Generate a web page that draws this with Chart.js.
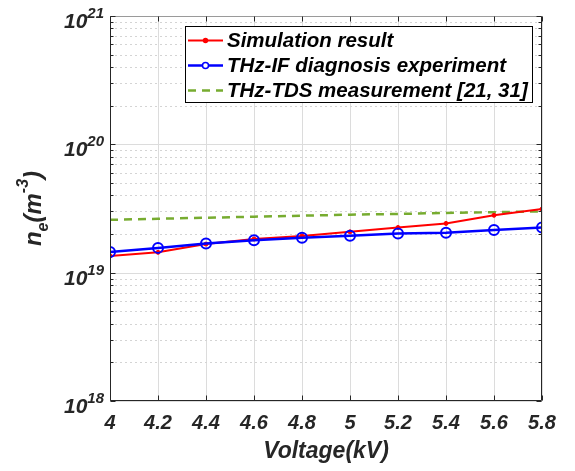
<!DOCTYPE html>
<html>
<head>
<meta charset="utf-8">
<script src="https://cdn.jsdelivr.net/npm/chart.js@4"></script>
<style>
  html, body { margin: 0; padding: 0; background: #fff; }
</style>
</head>
<body>
<canvas id="myChart" width="575" height="471"></canvas>
<script>
// data
var voltage = [4, 4.2, 4.4, 4.6, 4.8, 5.0, 5.2, 5.4, 5.6, 5.8];
var simulation = [1.35e19, 1.44e19, 1.67e19, 1.83e19, 1.93e19, 2.08e19, 2.25e19, 2.42e19, 2.80e19, 3.13e19];
var thzIF = [1.45e19, 1.56e19, 1.69e19, 1.79e19, 1.87e19, 1.94e19, 2.02e19, 2.05e19, 2.15e19, 2.25e19];
var thzTDS = [2.58e19, 2.63e19, 2.68e19, 2.73e19, 2.78e19, 2.83e19, 2.87e19, 2.92e19, 2.96e19, 3.00e19];

var seriesNames = ['Simulation result', 'THz-IF diagnosis experiment', 'THz-TDS measurement [21, 31]'];
var xTicks = [4, 4.2, 4.4, 4.6, 4.8, 5, 5.2, 5.4, 5.6, 5.8];
var yTicks = [1e18, 1e19, 1e20, 1e21];
var yExponents = ['18', '19', '20', '21'];

var textColor = '#262626';
var fontFamily = '"Liberation Sans", Arial, sans-serif';

function toPoints(vals) {
  return vals.map(function(v, i) { return {x: voltage[i], y: v}; });
}

// minor log ticks 2..9 in each decade
var yMinor = [];
for (var d = 0; d < yTicks.length - 1; d++) {
  for (var k = 2; k <= 9; k++) {
    yMinor.push(k * yTicks[d]);
  }
}

function line(ctx, x1, y1, x2, y2) {
  ctx.beginPath();
  ctx.moveTo(x1, y1);
  ctx.lineTo(x2, y2);
  ctx.stroke();
}

// grid behind the data
var gridLines = {
  id: 'gridLines',
  beforeDatasetsDraw: function(chart) {
    var ctx = chart.ctx, a = chart.chartArea;
    var xs = chart.scales.x, ys = chart.scales.y;
    ctx.save();
    ctx.lineWidth = 1;
    ctx.strokeStyle = '#dcdcdc';
    xTicks.forEach(function(v) {
      var px = Math.round(xs.getPixelForValue(v)) + 0.5;
      line(ctx, px, a.top, px, a.bottom);
    });
    yTicks.forEach(function(v) {
      var py = Math.round(ys.getPixelForValue(v)) + 0.5;
      line(ctx, a.left, py, a.right, py);
    });
    ctx.setLineDash([2, 3]);
    ctx.strokeStyle = '#d4d4d4';
    yMinor.forEach(function(v) {
      var py = Math.round(ys.getPixelForValue(v)) + 0.5;
      line(ctx, a.left, py, a.right, py);
    });
    ctx.restore();
  }
};

// box, inward ticks, y labels, titles, legend
var decorations = {
  id: 'decorations',
  afterDraw: function(chart) {
    var ctx = chart.ctx, a = chart.chartArea;
    var xs = chart.scales.x, ys = chart.scales.y;
    var L = Math.round(a.left) + 0.5, R = Math.round(a.right) - 0.5;
    var T = Math.round(a.top) + 0.5, B = Math.round(a.bottom) - 0.5;
    ctx.save();

    // box
    ctx.lineWidth = 1;
    ctx.strokeStyle = '#9a9a9a';
    line(ctx, L, T, R, T);
    ctx.strokeStyle = textColor;
    line(ctx, L, T, L, B);
    line(ctx, L, B, R, B);
    line(ctx, R, T, R, B);

    // ticks
    xTicks.forEach(function(v) {
      var px = Math.round(xs.getPixelForValue(v)) + 0.5;
      line(ctx, px, B, px, B - 5);
      line(ctx, px, T, px, T + 5);
    });
    yTicks.forEach(function(v) {
      var py = Math.round(ys.getPixelForValue(v)) + 0.5;
      line(ctx, L, py, L + 5, py);
      line(ctx, R, py, R - 5, py);
    });
    yMinor.forEach(function(v) {
      var py = Math.round(ys.getPixelForValue(v)) + 0.5;
      line(ctx, L, py, L + 3, py);
      line(ctx, R, py, R - 3, py);
    });

    // y tick labels as 10^n
    ctx.fillStyle = textColor;
    ctx.textBaseline = 'alphabetic';
    yTicks.forEach(function(v, i) {
      var py = ys.getPixelForValue(v);
      ctx.font = 'italic bold 15px ' + fontFamily;
      var ew = ctx.measureText(yExponents[i]).width;
      var right = a.left - 6;
      ctx.textAlign = 'left';
      ctx.fillText(yExponents[i], right - ew, py + 2);
      ctx.font = 'italic bold 21px ' + fontFamily;
      ctx.textAlign = 'right';
      ctx.fillText('10', right - ew, py + 12);
    });

    // x title
    ctx.font = 'italic bold 23px ' + fontFamily;
    ctx.textAlign = 'center';
    ctx.textBaseline = 'middle';
    ctx.fillText('Voltage(kV)', (a.left + a.right) / 2, 452);

    // y title n_e(m^-3), rotated
    var parts = [
      {t: 'n', size: 24, dy: 0},
      {t: 'e', size: 16, dy: 7},
      {t: '(m', size: 24, dy: 0},
      {t: '-3', size: 16, dy: -13},
      {t: ')', size: 24, dy: 0}
    ];
    var total = 0;
    parts.forEach(function(p) {
      ctx.font = 'italic bold ' + p.size + 'px ' + fontFamily;
      p.w = ctx.measureText(p.t).width;
      total += p.w;
    });
    ctx.translate(41, (a.top + a.bottom) / 2);
    ctx.rotate(-Math.PI / 2);
    ctx.textAlign = 'left';
    ctx.textBaseline = 'alphabetic';
    var cx = -total / 2;
    parts.forEach(function(p) {
      ctx.font = 'italic bold ' + p.size + 'px ' + fontFamily;
      ctx.fillText(p.t, cx, p.dy);
      cx += p.w;
    });
    ctx.setTransform(1, 0, 0, 1, 0, 0);

    // legend
    var bx = a.left + 75, by = a.top + 10, bw = a.right - 10 - bx, bh = 76;
    ctx.fillStyle = '#ffffff';
    ctx.fillRect(bx, by, bw, bh);
    ctx.strokeStyle = '#000000';
    ctx.lineWidth = 1;
    ctx.strokeRect(Math.round(bx) + 0.5, Math.round(by) + 0.5, Math.round(bw), Math.round(bh));
    chart.data.datasets.forEach(function(ds, i) {
      var ry = by + 14.5 + i * 25;
      ctx.save();
      ctx.strokeStyle = ds.borderColor;
      ctx.lineWidth = ds.borderWidth;
      ctx.setLineDash(ds.borderDash || []);
      line(ctx, bx + 3, ry, bx + 38, ry);
      ctx.setLineDash([]);
      if (ds.pointRadius > 0) {
        ctx.beginPath();
        ctx.arc(bx + 20.5, ry, i === 0 ? 2 : 3, 0, Math.PI * 2);
        ctx.lineWidth = 1.5;
        ctx.strokeStyle = ds.pointBorderColor;
        ctx.fillStyle = i === 0 ? ds.pointBackgroundColor : '#ffffff';
        ctx.fill();
        ctx.stroke();
      }
      ctx.restore();
      ctx.fillStyle = '#000000';
      ctx.font = 'italic bold 20.5px ' + fontFamily;
      ctx.textAlign = 'left';
      ctx.textBaseline = 'middle';
      ctx.fillText(seriesNames[i], bx + 42, ry + 1);
    });

    ctx.restore();
  }
};

var ctx = document.getElementById('myChart').getContext('2d');
var chart = new Chart(ctx, {
  type: 'line',
  data: {
    datasets: [{
      label: seriesNames[0],
      data: toPoints(simulation),
      borderColor: '#ff0000',
      backgroundColor: '#ff0000',
      borderWidth: 2,
      pointRadius: 2,
      pointBackgroundColor: '#ff0000',
      pointBorderColor: '#ff0000',
      pointBorderWidth: 1,
      order: 1
    }, {
      label: seriesNames[1],
      data: toPoints(thzIF),
      borderColor: '#0000ff',
      backgroundColor: 'rgba(0,0,0,0)',
      borderWidth: 2.5,
      pointRadius: 5,
      pointBackgroundColor: 'rgba(0,0,0,0)',
      pointBorderColor: '#0000ff',
      pointBorderWidth: 2,
      order: 0
    }, {
      label: seriesNames[2],
      data: toPoints(thzTDS),
      borderColor: '#77ac30',
      backgroundColor: '#77ac30',
      borderWidth: 2.5,
      borderDash: [8, 6],
      pointRadius: 0,
      order: 2
    }]
  },
  options: {
    responsive: false,
    devicePixelRatio: 1,
    animation: false,
    layout: {
      padding: {top: 16, right: 33, left: 0, bottom: 0}
    },
    plugins: {
      legend: {display: false},
      tooltip: {enabled: false}
    },
    scales: {
      x: {
        type: 'linear',
        min: 4,
        max: 5.8,
        afterBuildTicks: function(scale) {
          scale.ticks = xTicks.map(function(v) { return {value: v}; });
        },
        afterFit: function(scale) { scale.height = 70; },
        grid: {display: false, drawTicks: false},
        border: {display: false},
        ticks: {
          padding: 10,
          maxRotation: 0,
          autoSkip: false,
          color: textColor,
          font: {family: fontFamily, size: 20, weight: 'bold', style: 'italic'},
          callback: function(v) { return String(Math.round(v * 10) / 10); }
        }
      },
      y: {
        type: 'logarithmic',
        min: 1e18,
        max: 1e21,
        afterBuildTicks: function(scale) {
          scale.ticks = yTicks.map(function(v) { return {value: v}; });
        },
        afterFit: function(scale) { scale.width = 110; },
        grid: {display: false, drawTicks: false},
        border: {display: false},
        ticks: {display: false}
      }
    }
  },
  plugins: [gridLines, decorations]
});
</script>
</body>
</html>
